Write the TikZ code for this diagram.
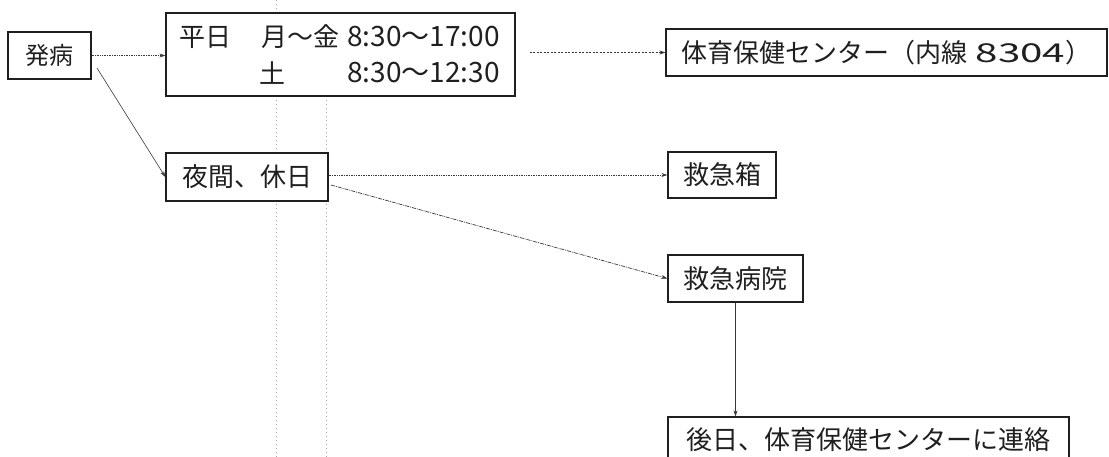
\documentclass[tikz,border=0pt]{standalone}
\usepackage{fontspec}
\setmainfont{Noto Sans CJK JP}
\usetikzlibrary{arrows.meta}
\begin{document}
\begin{tikzpicture}[x=1pt,y=-1pt,
  box/.style={draw=black!88, line width=1.3pt, fill=white, inner sep=0pt,
    text=black!88, font=\fontsize{26}{30}\selectfont},
  txt/.style={inner sep=0pt, text=black!88, font=\fontsize{26}{30}\selectfont},
  num/.style={inner sep=0pt, text=black!88, font=\fontsize{28}{32}\selectfont},
  arr/.style={-{Stealth[length=6pt,width=4pt]}, line width=0.7pt, draw=black!78},
  fold/.style={draw=black!35, line width=0.6pt, dash pattern=on 1pt off 3pt}]
\useasboundingbox (0,0) rectangle (1109,457);
\clip (0,0) rectangle (1109,457);
% faint fold lines of the scan
\draw[fold] (276,0) -- (276,457);
\draw[fold] (326,96) -- (326,457);
% boxes
\node[box, minimum width=83pt, minimum height=47pt, font=\fontsize{24}{28}\selectfont] (onset) at (49.5,55.5) {発病};
\node[box, minimum width=349pt, minimum height=83pt] (weekday) at (340.5,54.5) {};
\node[txt, anchor=west] (wdlabel) at (179,37) {平日};
\node[txt, anchor=west] (wddays) at (261,37) {月～金};
\node[num, anchor=west] (wdtime) at (347,37) {8:30～17:00};
\node[txt, anchor=west] (satlabel) at (259,73) {土};
\node[num, anchor=west] (sattime) at (347,73) {8:30～12:30};
\node[box, minimum width=162pt, minimum height=48pt] (night) at (247,177) {夜間、休日};
\node[box, minimum width=441pt, minimum height=47pt] (center) at (886.5,52.5) {体育保健センター（内線\hspace{8pt}\scalebox{1.55}[1.0]{8304}）};
\node[box, minimum width=108pt, minimum height=46pt] (kit) at (722,175) {救急箱};
\node[box, minimum width=135pt, minimum height=47pt] (hosp) at (735.5,278.5) {救急病院};
\node[box, minimum width=401pt, minimum height=46pt] (later) at (868.5,440) {後日、体育保健センターに連絡};
% connectors
\coordinate (os) at (97,68);
\coordinate (ns) at (331,185);
\draw[arr, densely dotted] (onset.east) -- (onset.east -| weekday.west);
\draw[arr, dash pattern=on 2pt off 1.5pt, shorten <=14pt] (center.west -| weekday.east) -- (center.west);
\draw[arr, densely dotted] (kit.west -| night.east) -- (kit.west);
\draw[arr, dash pattern=on 4pt off 1pt on 1pt off 1pt] (ns) -- (hosp.west);
\draw[arr, line width=0.6pt] (os) -- (night.west);
\draw[arr, line width=0.6pt] (hosp.south) -- (hosp.south |- later.north);
\end{tikzpicture}
\end{document}
